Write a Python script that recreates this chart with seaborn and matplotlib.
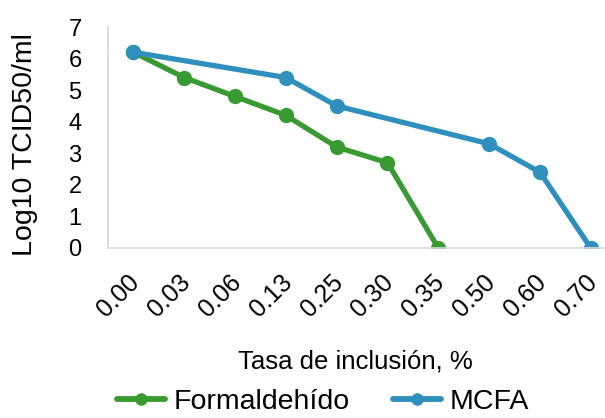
import matplotlib
matplotlib.use("Agg")
import matplotlib.pyplot as plt
import matplotlib.transforms as mtransforms
import seaborn as sns
import pandas as pd
import numpy as np

categories = ["0.00", "0.03", "0.06", "0.13", "0.25", "0.30", "0.35", "0.50", "0.60", "0.70"]
formaldehido_cats = ["0.00", "0.03", "0.06", "0.13", "0.25", "0.30", "0.35"]
formaldehido_vals = [6.2, 5.4, 4.8, 4.2, 3.2, 2.7, 0.0]
mcfa_cats = ["0.00", "0.13", "0.25", "0.50", "0.60", "0.70"]
mcfa_vals = [6.2, 5.4, 4.5, 3.3, 2.4, 0.0]
series_names = ["Formaldehído", "MCFA"]
colors = ["#3a9a32", "#2f8fbd"]

rows = []
for c, v in zip(formaldehido_cats, formaldehido_vals):
    rows.append({"cat": c, "val": v, "serie": series_names[0]})
for c, v in zip(mcfa_cats, mcfa_vals):
    rows.append({"cat": c, "val": v, "serie": series_names[1]})
df = pd.DataFrame(rows)
df["pos"] = df["cat"].map({c: i for i, c in enumerate(categories)})

sns.set_theme(style="white")
plt.rcParams["font.family"] = ["Liberation Sans", "DejaVu Sans"]
plt.rcParams["text.color"] = "black"

W, H = 605, 418
fig = plt.figure(figsize=(W / 100, H / 100), dpi=100)
ax = fig.add_axes([108 / W, 1 - 248 / H, 497 / W, (248 - 27) / H])

sns.lineplot(data=df, x="pos", y="val", hue="serie", palette=colors,
             marker="o", markersize=11, markeredgewidth=0, linewidth=3.8,
             ax=ax, legend=False, sort=True)

ax.set_xlim(-0.5, 9.28)
ax.set_ylim(0, 7)
ax.set_yticks(range(0, 8))
ax.set_yticklabels([str(i) for i in range(0, 8)], fontsize=17, color="black")
ax.set_xticks(range(len(categories)))
ax.set_xticklabels(categories, rotation=45, ha="right", rotation_mode="anchor",
                   fontsize=18, color="black")
ax.tick_params(axis="y", length=0, pad=19)
ax.tick_params(axis="x", length=0, pad=16)
offset = mtransforms.ScaledTranslation(-6 / 100, 0, fig.dpi_scale_trans)
for lbl in ax.get_xticklabels():
    lbl.set_transform(lbl.get_transform() + offset)

for s in ["top", "right"]:
    ax.spines[s].set_visible(False)
ax.spines["left"].set_color("#d9d9d9")
ax.spines["bottom"].set_color("#d9d9d9")
ax.spines["left"].set_linewidth(1.2)
ax.spines["bottom"].set_linewidth(1.2)

ax.set_xlabel("Tasa de inclusión, %", fontsize=18.5, color="black")
ax.set_ylabel("Log10 TCID50/ml", fontsize=20.5, color="black")
ax.xaxis.set_label_coords((355 - 108) / 497, -(361 - 248) / (248 - 27))
ax.yaxis.set_label_coords((25 - 108) / 497, (248 - 145) / (248 - 27))
ax.xaxis.label.set_va("center")
ax.yaxis.label.set_va("center")

handles = [plt.Line2D([0], [0], color=c, linewidth=4.2, marker="o", markersize=8) for c in colors]
fig.legend(handles, series_names, loc="center", bbox_to_anchor=(323 / W, 1 - 402 / H),
           ncol=2, frameon=False, fontsize=20.5, handlelength=1.7, columnspacing=1.5,
           handletextpad=0.3, borderpad=0, borderaxespad=0)

fig.savefig("out.png", dpi=100)
